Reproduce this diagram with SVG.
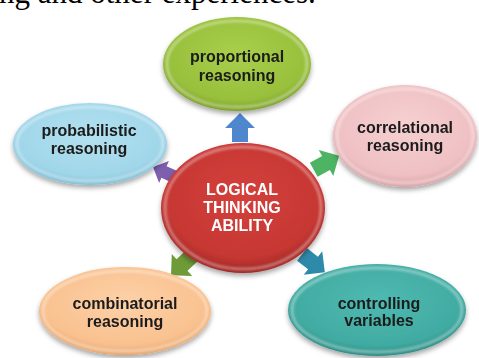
<svg xmlns="http://www.w3.org/2000/svg" width="479" height="358" viewBox="0 0 479 358">
<defs>
<style>
.lbl{font-family:"Liberation Sans",Arial,sans-serif;font-weight:bold;font-size:16px;fill:#1a1a1a;text-anchor:middle}
.lblw{font-family:"Liberation Sans",Arial,sans-serif;font-weight:bold;font-size:16px;fill:#ffffff;text-anchor:middle}
.top{font-family:"Liberation Serif","Times New Roman",serif;font-size:31px;fill:#000}
.bevel{fill:none;stroke:#ffffff;stroke-opacity:0.35;stroke-width:3;filter:url(#blur)}
.node{filter:url(#shadow)}
</style>
<filter id="shadow" x="-20%" y="-20%" width="140%" height="150%">
<feDropShadow dx="0" dy="3" stdDeviation="2.5" flood-color="#000" flood-opacity="0.35"/>
</filter>
<filter id="blur"><feGaussianBlur stdDeviation="1.2"/></filter>
<radialGradient id="gGreen" cx="50%" cy="40%" r="60%"><stop offset="0" stop-color="#a9cf4b"/><stop offset="0.8" stop-color="#98c03c"/><stop offset="1" stop-color="#7c9f2b"/></radialGradient>
<radialGradient id="gBlue" cx="50%" cy="40%" r="60%"><stop offset="0" stop-color="#b3e1f0"/><stop offset="0.8" stop-color="#a0d6e9"/><stop offset="1" stop-color="#82bfd6"/></radialGradient>
<radialGradient id="gPink" cx="50%" cy="40%" r="60%"><stop offset="0" stop-color="#f6d0d2"/><stop offset="0.8" stop-color="#efc0c3"/><stop offset="1" stop-color="#d9a3a7"/></radialGradient>
<radialGradient id="gRed" cx="50%" cy="40%" r="60%"><stop offset="0" stop-color="#d4403c"/><stop offset="0.8" stop-color="#c63733"/><stop offset="1" stop-color="#9e2623"/></radialGradient>
<radialGradient id="gOrange" cx="50%" cy="40%" r="60%"><stop offset="0" stop-color="#fdd1a8"/><stop offset="0.8" stop-color="#f9c18f"/><stop offset="1" stop-color="#e6a66e"/></radialGradient>
<radialGradient id="gTeal" cx="50%" cy="40%" r="60%"><stop offset="0" stop-color="#4fbab1"/><stop offset="0.8" stop-color="#41aba2"/><stop offset="1" stop-color="#2c8b83"/></radialGradient>
<path id="arrow" d="M0,-15 L15,0 L8,0 L8,14 L-8,14 L-8,0 L-15,0 Z"/>
</defs>
<rect width="479" height="358" fill="#ffffff"/>
<text class="top" x="-1" y="3">ng and other experiences.</text>
<g id="connectors">
<use href="#arrow" fill="#4f87cf" transform="translate(240,128)"/>
<use href="#arrow" fill="#7d5fae" transform="translate(164,172) rotate(-66) scale(0.8)"/>
<use href="#arrow" fill="#4db463" transform="translate(326,163) rotate(61)"/>
<use href="#arrow" fill="#6e9a38" transform="translate(182,265) rotate(227)"/>
<use href="#arrow" fill="#2e8aa9" transform="translate(313,263) rotate(128)"/>
</g>
<g id="n-proportional" class="node">
<ellipse cx="237" cy="64" rx="74" ry="47" fill="url(#gGreen)"/>
<ellipse class="bevel" cx="237" cy="64" rx="70" ry="43"/>
<text class="lbl" x="237" y="62">proportional</text>
<text class="lbl" x="237" y="81">reasoning</text>
</g>
<g id="n-probabilistic" class="node">
<ellipse cx="90" cy="144" rx="77" ry="41" fill="url(#gBlue)"/>
<ellipse class="bevel" cx="90" cy="144" rx="73" ry="37"/>
<text class="lbl" x="89" y="136">probabilistic</text>
<text class="lbl" x="89" y="154">reasoning</text>
</g>
<g id="n-correlational" class="node">
<ellipse cx="405" cy="136" rx="72" ry="51" fill="url(#gPink)"/>
<ellipse class="bevel" cx="405" cy="136" rx="68" ry="47"/>
<text class="lbl" x="405" y="133">correlational</text>
<text class="lbl" x="405" y="151">reasoning</text>
</g>
<g id="n-center" class="node">
<ellipse cx="243" cy="208" rx="82" ry="65" fill="url(#gRed)"/>
<ellipse class="bevel" cx="243" cy="208" rx="78" ry="61"/>
<text class="lblw" x="242" y="195">LOGICAL</text>
<text class="lblw" x="242" y="213">THINKING</text>
<text class="lblw" x="242" y="231">ABILITY</text>
</g>
<g id="n-combinatorial" class="node">
<ellipse cx="125" cy="311" rx="86" ry="44" fill="url(#gOrange)"/>
<ellipse class="bevel" cx="125" cy="311" rx="82" ry="40"/>
<text class="lbl" x="125" y="309">combinatorial</text>
<text class="lbl" x="125" y="327">reasoning</text>
</g>
<g id="n-controlling" class="node">
<ellipse cx="377" cy="310" rx="89" ry="46" fill="url(#gTeal)"/>
<ellipse class="bevel" cx="377" cy="310" rx="85" ry="42"/>
<text class="lbl" x="379" y="309">controlling</text>
<text class="lbl" x="379" y="326">variables</text>
</g>
</svg>
